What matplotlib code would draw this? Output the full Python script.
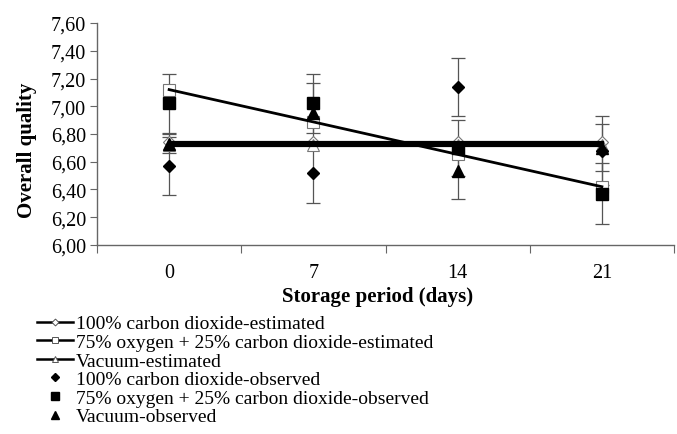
import matplotlib
matplotlib.use("Agg")
import matplotlib.pyplot as plt
from matplotlib.ticker import FixedLocator, FuncFormatter
from matplotlib.lines import Line2D

days = ["0", "7", "14", "21"]
co2_obs = [6.57, 6.52, 7.14, 6.68]
co2_err = [0.21, 0.22, 0.21, 0.25]
map_obs = [7.02, 7.02, 6.70, 6.37]
map_err = [0.21, 0.21, 0.20, 0.22]
vac_obs = [6.73, 6.95, 6.53, 6.70]
vac_err = [0.07, 0.22, 0.20, 0.17]
co2_est = [6.74, 6.74, 6.74, 6.74]
map_est = [7.12, 6.887, 6.653, 6.42]
vac_est = [6.72, 6.72, 6.72, 6.72]
yticks = [6.0, 6.2, 6.4, 6.6, 6.8, 7.0, 7.2, 7.4, 7.6]
ytick_labels = ["6,00", "6,20", "6,40", "6,60", "6,80", "7,00", "7,20", "7,40", "7,60"]

labels = ["100% carbon dioxide-estimated",
          "75% oxygen + 25% carbon dioxide-estimated",
          "Vacuum-estimated",
          "100% carbon dioxide-observed",
          "75% oxygen + 25% carbon dioxide-observed",
          "Vacuum-observed"]

plt.rcParams['font.family'] = ['Liberation Serif', 'DejaVu Serif']
fig = plt.figure(figsize=(6.77, 4.35), dpi=100)
ax = fig.add_axes([0.1433, 0.4345, 0.8523, 0.5103])

x = list(range(len(days)))
ebkw = dict(ecolor="#555555", elinewidth=0.9, capsize=5, capthick=0.9, linestyle="none")
ax.errorbar(x, co2_obs, yerr=co2_err, marker="D", ms=6, color="black", **ebkw)
ax.errorbar(x, map_obs, yerr=map_err, marker="s", ms=8.5, color="black", **ebkw)
ax.errorbar(x, vac_obs, yerr=vac_err, marker="^", ms=9, color="black", **ebkw)

mk = dict(mfc="white", mec="#777777", mew=0.8, ls="none")
ax.plot(x, co2_est, marker="D", ms=6, **mk)
ax.plot(x, map_est, marker="s", ms=8.5, **mk)
ax.plot(x, vac_est, marker="^", ms=9, **mk)
ax.plot(x, co2_est, color="black", lw=2.3)
ax.plot(x, map_est, color="black", lw=2.0)
ax.plot(x, vac_est, color="black", lw=2.3)

lk = dict(color="black", lw=1.8, mfc="white", mec="#555555", mew=0.7)
h1 = Line2D([], [], marker="D", ms=3.5, **lk)
h2 = Line2D([], [], marker="s", ms=5, **lk)
h3 = Line2D([], [], marker="^", ms=5, **lk)
o1 = Line2D([], [], ls="none", marker="D", ms=4.5, color="black")
o2 = Line2D([], [], ls="none", marker="s", ms=6, color="black")
o3 = Line2D([], [], ls="none", marker="^", ms=6, color="black")

ax.set_xlim(-0.5, 3.5)
ax.set_ylim(6.0, 7.6)
ax.xaxis.set_major_locator(FixedLocator([-0.5, 0.5, 1.5, 2.5, 3.5]))
ax.xaxis.set_major_formatter(FuncFormatter(lambda v, p: ""))
ax.xaxis.set_minor_locator(FixedLocator(x))
ax.set_xticklabels(days, minor=True)
ax.tick_params(axis="x", which="minor", length=0, pad=13, labelsize=14.5)
ax.tick_params(axis="x", which="major", length=6, color="#666666", direction="out")
ax.yaxis.set_major_locator(FixedLocator(yticks))
ax.set_yticklabels(ytick_labels)
ax.tick_params(axis="y", length=5, color="#666666", labelsize=14.5, pad=3)
for s in ["top", "right"]:
    ax.spines[s].set_visible(False)
for s in ["left", "bottom"]:
    ax.spines[s].set_color("#666666")
    ax.spines[s].set_linewidth(1.0)

ax.set_ylabel("Overall quality", fontsize=15, fontweight="bold", va="center")
ax.yaxis.set_label_coords(-0.121, 0.432)
ax.set_xlabel("Storage period (days)", fontsize=15, fontweight="bold", va="center")
ax.xaxis.set_label_coords(0.487, -0.23)

fig.legend([h1, h2, h3, o1, o2, o3], labels, loc="upper left",
           bbox_to_anchor=(0.055, 0.274), frameon=False, fontsize=14,
           handlelength=1.85, handletextpad=0.15, labelspacing=0.05, borderpad=0, borderaxespad=0)

fig.savefig("out.png", dpi=100)
